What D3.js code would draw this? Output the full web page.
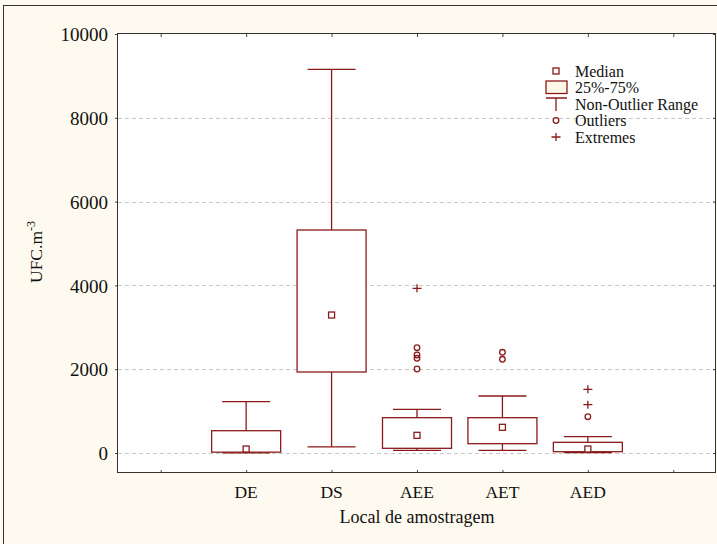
<!DOCTYPE html>
<html>
<head>
<meta charset="utf-8">
<script src="https://cdn.jsdelivr.net/npm/d3@7"></script>
<style>
  body { margin: 0; background: #fffaef; }
  text { font-family: "Liberation Serif", "Times New Roman", serif; fill: #111; }
</style>
</head>
<body>
<div id="chart"></div>
<script>
// chart values
var categories = ["DE", "DS", "AEE", "AET", "AED"];
var whiskerLow  = [5, 145, 64, 64, 7];
var q1          = [20, 1933, 112, 222, 31];
var medians     = [95, 3293, 422, 613, 95];
var q3          = [532, 5322, 843, 843, 255];
var whiskerHigh = [1224, 9158, 1043, 1360, 389];
var outliers    = [[], [], [2005, 2260, 2339, 2513], [2236, 2403], [866]];
var extremes    = [[], [], [3930], [], [1153, 1520]];
var yTicks = [0, 2000, 4000, 6000, 8000, 10000];
var legendItems = ["Median", "25%-75%", "Non-Outlier Range", "Outliers", "Extremes"];

var W = 717, H = 544;
var red = "#8b1a1a";

var svg = d3.select("#chart").append("svg")
    .attr("width", W)
    .attr("height", H);

// outer frame
svg.append("rect")
    .attr("x", 3.5).attr("y", 5.5)
    .attr("width", W + 10).attr("height", H + 10)
    .attr("fill", "#fffaef")
    .attr("stroke", "#333");

// plot area
var pLeft = 118, pRight = 716, pTop = 34, pBottom = 473;
var x = d3.scaleLinear().domain([-0.5, 6.5]).range([pLeft, pRight]);
var y = d3.scaleLinear().domain([0, 10000]).range([453, pTop]);

svg.append("rect")
    .attr("x", pLeft).attr("y", pTop)
    .attr("width", pRight - pLeft).attr("height", pBottom - pTop)
    .attr("fill", "#fff");

// grid
svg.append("g").selectAll("line")
    .data(yTicks.filter(function(d) { return d < 10000; }))
    .enter().append("line")
    .attr("x1", pLeft).attr("x2", pRight)
    .attr("y1", function(d) { return Math.round(y(d)) + 0.5; })
    .attr("y2", function(d) { return Math.round(y(d)) + 0.5; })
    .attr("stroke", "#c8c8c8")
    .attr("stroke-dasharray", "4,3");

// axes
var yAxis = d3.axisLeft(y).tickValues(yTicks).tickSize(3).tickFormat(d3.format("d"));
var gy = svg.append("g").attr("transform", "translate(" + pLeft + ",0)").call(yAxis);
gy.select(".domain").remove();
gy.selectAll("text").attr("font-size", 19).attr("x", -10).attr("dy", "0.35em")
    .style("font-family", "Liberation Serif");

var gyR = svg.append("g").attr("transform", "translate(" + pRight + ",0)")
    .call(d3.axisLeft(y).tickValues(yTicks).tickSize(3).tickFormat(""));
gyR.select(".domain").remove();

var xTicks = d3.range(0, 7);
var gx = svg.append("g").attr("transform", "translate(0," + pBottom + ")")
    .call(d3.axisTop(x).tickValues(xTicks).tickSize(3).tickFormat(""));
gx.select(".domain").remove();
var gxT = svg.append("g").attr("transform", "translate(0," + pTop + ")")
    .call(d3.axisBottom(x).tickValues(xTicks).tickSize(3).tickFormat(""));
gxT.select(".domain").remove();
svg.selectAll(".tick line").attr("stroke", "#444");

svg.append("rect")
    .attr("x", pLeft - 0.5).attr("y", pTop - 0.5)
    .attr("width", pRight - pLeft).attr("height", pBottom - pTop)
    .attr("fill", "none")
    .attr("stroke", "#333");

// category labels
svg.append("g").selectAll("text")
    .data(categories)
    .enter().append("text")
    .attr("x", function(d, i) { return x(i + 1); })
    .attr("y", 498)
    .attr("text-anchor", "middle")
    .attr("font-size", 17.5)
    .text(function(d) { return d; });

// axis titles
svg.append("text")
    .attr("x", x(3)).attr("y", 523)
    .attr("text-anchor", "middle")
    .attr("font-size", 18)
    .text("Local de amostragem");

var yl = svg.append("text")
    .attr("transform", "translate(42,283) rotate(-90)")
    .attr("font-size", 17.5);
yl.append("tspan").text("UFC.m");
yl.append("tspan").attr("dy", -7).attr("font-size", 12).text("-3");

// boxes
var boxW = 69, capW = 48;
var boxes = svg.append("g").selectAll("g")
    .data(categories)
    .enter().append("g")
    .attr("stroke", red)
    .attr("fill", "none")
    .attr("stroke-width", 1.3);

boxes.append("line") // whisker stem
    .attr("x1", function(d, i) { return x(i + 1); })
    .attr("x2", function(d, i) { return x(i + 1); })
    .attr("y1", function(d, i) { return y(whiskerLow[i]); })
    .attr("y2", function(d, i) { return y(whiskerHigh[i]); });

boxes.append("line")
    .attr("x1", function(d, i) { return x(i + 1) - capW / 2; })
    .attr("x2", function(d, i) { return x(i + 1) + capW / 2; })
    .attr("y1", function(d, i) { return y(whiskerHigh[i]); })
    .attr("y2", function(d, i) { return y(whiskerHigh[i]); });

boxes.append("line")
    .attr("x1", function(d, i) { return x(i + 1) - capW / 2; })
    .attr("x2", function(d, i) { return x(i + 1) + capW / 2; })
    .attr("y1", function(d, i) { return y(whiskerLow[i]); })
    .attr("y2", function(d, i) { return y(whiskerLow[i]); });

boxes.append("rect")
    .attr("x", function(d, i) { return x(i + 1) - boxW / 2; })
    .attr("width", boxW)
    .attr("y", function(d, i) { return y(q3[i]); })
    .attr("height", function(d, i) { return y(q1[i]) - y(q3[i]); })
    .attr("fill", "#fff");

boxes.append("rect")
    .attr("x", function(d, i) { return x(i + 1) - 3; })
    .attr("y", function(d, i) { return y(medians[i]) - 3; })
    .attr("width", 6).attr("height", 6)
    .attr("fill", "#fff");

boxes.each(function(d, i) {
    var g = d3.select(this);
    g.selectAll("circle")
        .data(outliers[i])
        .enter().append("circle")
        .attr("cx", x(i + 1))
        .attr("cy", function(v) { return y(v); })
        .attr("r", 2.8);
    g.selectAll("path")
        .data(extremes[i])
        .enter().append("path")
        .attr("d", function(v) {
            var cx = x(i + 1), cy = y(v);
            return "M" + (cx - 4.5) + "," + cy + "H" + (cx + 4.5) +
                   "M" + cx + "," + (cy - 4) + "V" + (cy + 4);
        });
});

// legend
var lx = 556, ly0 = 71, step = 16.5, tx = 575;
var leg = svg.append("g").attr("stroke", red).attr("fill", "none").attr("stroke-width", 1.3);
leg.append("rect").attr("x", lx - 3).attr("y", ly0 - 3).attr("width", 6).attr("height", 6);
leg.append("rect").attr("x", 546).attr("y", ly0 + step - 6.5).attr("width", 21).attr("height", 12.5)
    .attr("fill", "#fff8e8");
leg.append("path").attr("d", "M546," + (ly0 + 2 * step - 6) + "H567M" + lx + "," + (ly0 + 2 * step - 6) + "V" + (ly0 + 2 * step + 7));
leg.append("circle").attr("cx", lx).attr("cy", ly0 + 3 * step).attr("r", 2.8);
leg.append("path").attr("d", "M" + (lx - 4.5) + "," + (ly0 + 4 * step) + "H" + (lx + 4.5) +
    "M" + lx + "," + (ly0 + 4 * step - 4) + "V" + (ly0 + 4 * step + 4));

svg.append("g").selectAll("text")
    .data(legendItems)
    .enter().append("text")
    .attr("x", tx)
    .attr("y", function(d, i) { return ly0 + i * step; })
    .attr("dy", "0.35em")
    .attr("font-size", 16)
    .text(function(d) { return d; });
</script>
</body>
</html>
